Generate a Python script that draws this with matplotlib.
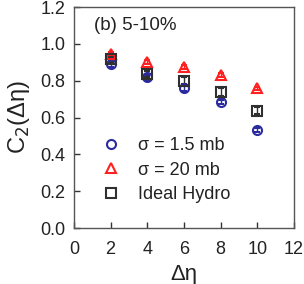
import matplotlib
matplotlib.use("Agg")
import matplotlib.pyplot as plt
from matplotlib.lines import Line2D

plt.rcParams['font.family'] = ['Liberation Sans', 'DejaVu Sans']

deta = [2, 4, 6, 8, 10]
c2_15mb = [0.889, 0.818, 0.758, 0.686, 0.532]
c2_20mb = [0.945, 0.900, 0.876, 0.830, 0.758]
c2_hydro = [0.916, 0.836, 0.800, 0.737, 0.637]
err_15mb = [0.012, 0.012, 0.012, 0.012, 0.012]
err_20mb = [0.010, 0.010, 0.010, 0.010, 0.010]
err_hydro = [0.015, 0.018, 0.020, 0.022, 0.018]

labels = ['σ = 1.5 mb', 'σ = 20 mb', 'Ideal Hydro']
colors = ['#2b2b9e', '#ff2020', '#303030']
markers = ['o', '^', 's']

fig = plt.figure(figsize=(3.04, 2.84), dpi=100)
ax = fig.add_axes([0.243, 0.197, 0.724, 0.778])

series = [(c2_15mb, err_15mb), (c2_20mb, err_20mb), (c2_hydro, err_hydro)]
for (vals, errs), c, m in zip(series, colors, markers):
    ax.errorbar(deta, vals, yerr=errs, fmt=m, mfc='none', mec=c, ecolor=c,
                ms=6.5, mew=1.5, elinewidth=1.0, capsize=2.0, capthick=1.0)

ax.set_xlim(0, 12)
ax.set_ylim(0, 1.2)
ax.set_xticks([0, 2, 4, 6, 8, 10, 12])
ax.set_yticks([0.0, 0.2, 0.4, 0.6, 0.8, 1.0, 1.2])
ax.set_yticklabels(['0.0', '0.2', '0.4', '0.6', '0.8', '1.0', '1.2'])
ax.tick_params(direction='in', length=4, width=1, labelsize=13, colors='#333333',
               labelcolor='#222222')
ax.tick_params(axis='x', pad=9)
ax.tick_params(axis='y', pad=6)
for s in ax.spines.values():
    s.set_color('#555555')
    s.set_linewidth(1.0)

ax.set_xlabel('Δη', fontsize=16, color='#222222', labelpad=5)
ax.set_ylabel('C$_2$(Δη)', fontsize=17, color='#222222', labelpad=6)
ax.text(0.09, 0.955, '(b) 5-10%', transform=ax.transAxes, fontsize=13.5,
        va='top', ha='left', color='#222222')

handles = [Line2D([], [], linestyle='none', marker=m, mfc='none', mec=c, ms=6.5, mew=1.5)
           for c, m in zip(colors, markers)]
leg = ax.legend(handles, labels, loc='lower left', bbox_to_anchor=(0.095, 0.08),
                frameon=False, fontsize=13, handletextpad=1.0, labelspacing=0.42,
                handlelength=1.0, borderaxespad=0)
for t in leg.get_texts():
    t.set_color('#222222')

fig.savefig('out.png', dpi=100)
